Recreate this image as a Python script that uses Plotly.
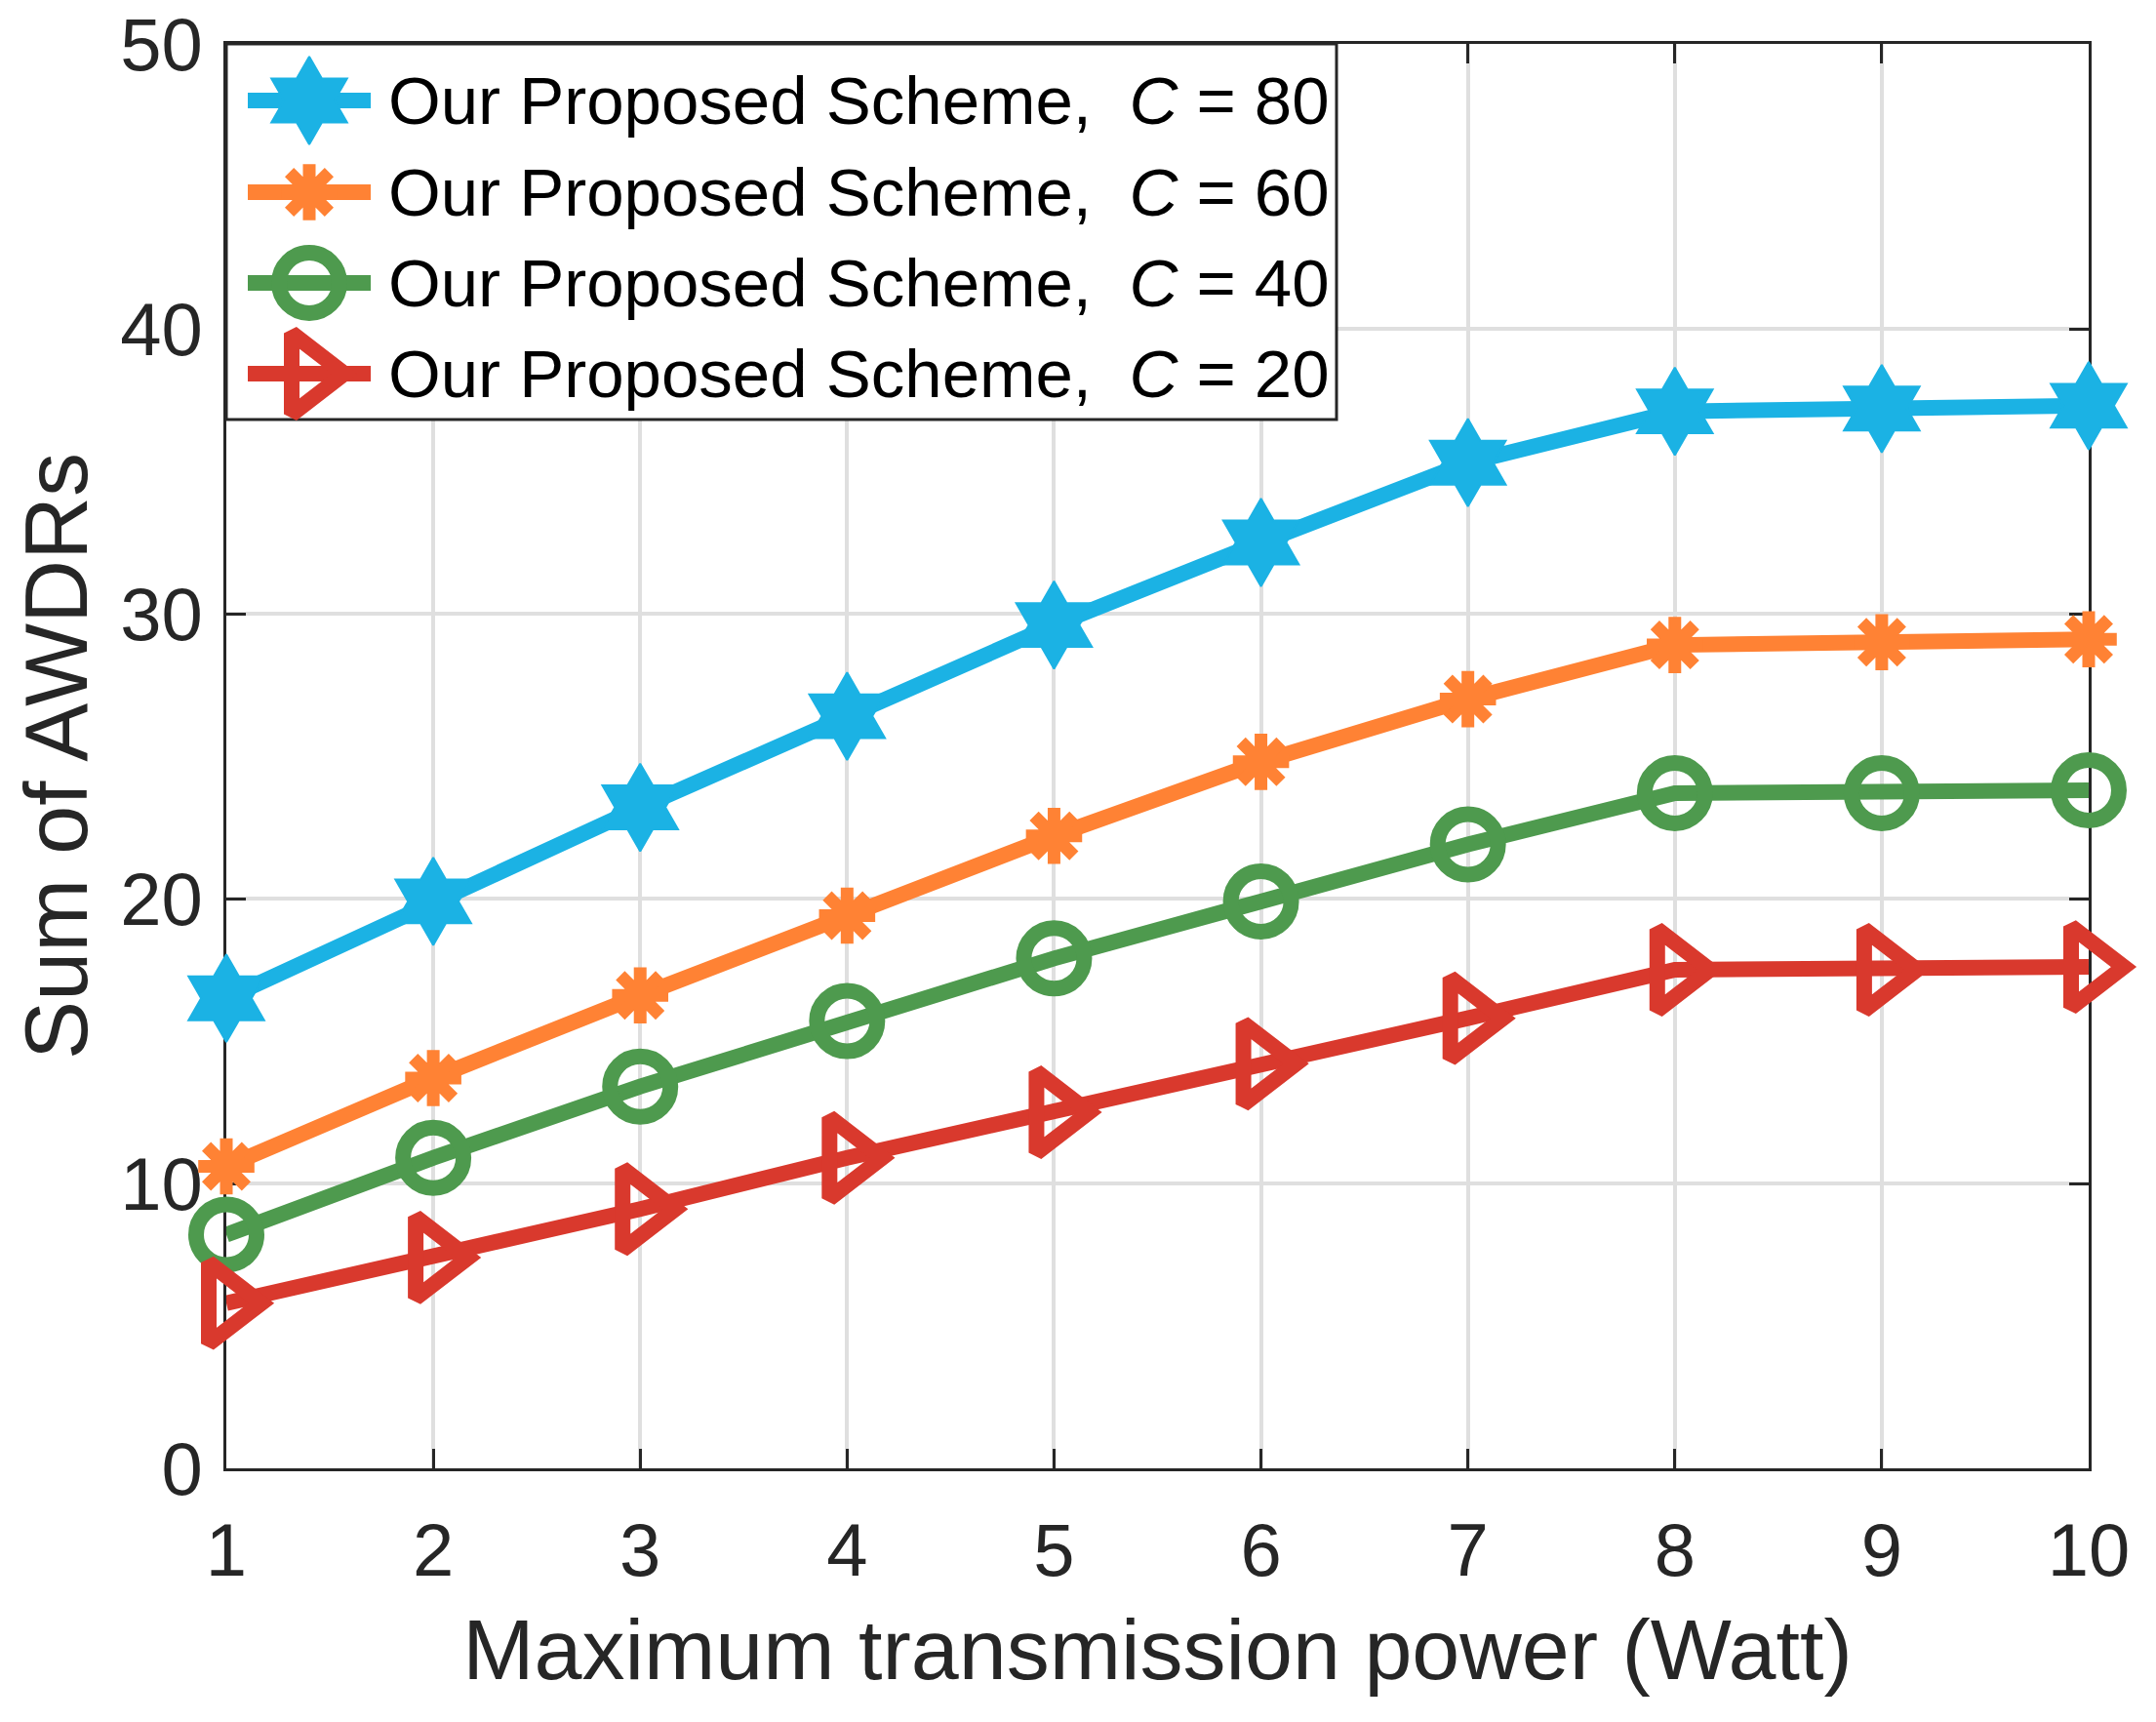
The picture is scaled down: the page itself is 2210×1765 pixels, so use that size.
import plotly.graph_objects as go

# x values: maximum transmission power (Watt)
power = [1, 2, 3, 4, 5, 6, 7, 8, 9, 10]
# sum of AWDRs for each cache size C
awdr_c80 = [16.5, 19.9, 23.2, 26.4, 29.6, 32.5, 35.3, 37.1, 37.2, 37.3]
awdr_c60 = [10.6, 13.7, 16.6, 19.4, 22.2, 24.8, 27.0, 28.9, 29.0, 29.1]
awdr_c40 = [8.2, 10.9, 13.4, 15.7, 17.9, 19.9, 21.9, 23.7, 23.7, 23.8]
awdr_c20 = [5.8, 7.4, 9.1, 10.9, 12.5, 14.2, 15.8, 17.5, 17.5, 17.6]
c_values = [80, 60, 40, 20]
series = [awdr_c80, awdr_c60, awdr_c40, awdr_c20]

colors = ['#1BB2E4', '#FF8234', '#4E9A4E', '#D9392D']
markers = [
    dict(symbol='hexagram', size=68, color='#1BB2E4', line=dict(color='#1BB2E4', width=2)),
    dict(symbol='asterisk-open', size=48, color='#FF8234', line=dict(color='#FF8234', width=13)),
    dict(symbol='circle-open', size=62, color='#4E9A4E', line=dict(color='#4E9A4E', width=16)),
    dict(symbol='triangle-right-open', size=72, color='#D9392D', line=dict(color='#D9392D', width=16)),
]

# the page body has an 8px margin, so the figure is drawn 8px in from the corner
W, H = 2202, 1757
L, R, T, B = 224, 69, 37, 260
FONT = 'Liberation Sans, Arial, Helvetica, sans-serif'
DARK = '#262626'

fig = go.Figure()

for vals, col, mk in zip(series, colors, markers):
    fig.add_trace(go.Scatter(x=power, y=vals, mode='lines+markers',
                             line=dict(color=col, width=16), marker=mk,
                             cliponaxis=False, showlegend=False))

# hand-made legend on an overlay axis measured in figure pixels
box_l, box_r, box_t, box_b = 224, 1362, 37, 422
row_y = [95, 189, 282, 375]
fig.add_trace(go.Scatter(x=[box_l, box_r, box_r, box_l, box_l], y=[box_t, box_t, box_b, box_b, box_t],
                         xaxis='x2', yaxis='y2', mode='lines', fill='toself', fillcolor='white',
                         line=dict(color=DARK, width=3), cliponaxis=False, showlegend=False,
                         hoverinfo='skip'))
for yy, col, mk, c in zip(row_y, colors, markers, c_values):
    fig.add_trace(go.Scatter(x=[246, 372], y=[yy, yy], xaxis='x2', yaxis='y2', mode='lines',
                             line=dict(color=col, width=16), cliponaxis=False, showlegend=False,
                             hoverinfo='skip'))
    fig.add_trace(go.Scatter(x=[309], y=[yy], xaxis='x2', yaxis='y2', mode='markers',
                             marker=mk, cliponaxis=False, showlegend=False, hoverinfo='skip'))
    fig.add_annotation(x=388, y=yy, xref='x2', yref='y2', xanchor='left', yanchor='middle',
                       text='Our Proposed Scheme,&nbsp; <i>C</i> = %d' % c, showarrow=False,
                       font=dict(family=FONT, size=69, color='black'))

axis_common = dict(showline=True, linecolor=DARK, linewidth=3, mirror='ticks',
                   ticks='inside', ticklen=20, tickwidth=3, tickcolor=DARK,
                   showgrid=True, gridcolor='#DFDFDF', gridwidth=4, zeroline=False,
                   layer='below traces', ticklabeloverflow='allow', automargin=False,
                   tickfont=dict(family=FONT, size=76, color=DARK))

fig.update_layout(
    width=W, height=H,
    margin=dict(l=L, r=R, t=T, b=B, autoexpand=False),
    paper_bgcolor='white', plot_bgcolor='white',
    font=dict(family=FONT, color=DARK),
    xaxis=dict(range=[1, 10], dtick=1, tick0=1, ticklabelstandoff=16,
               title=dict(text='Maximum transmission power (Watt)', standoff=30,
                          font=dict(family=FONT, size=88, color=DARK)),
               **axis_common),
    yaxis=dict(range=[0, 50], dtick=10, ticklabelstandoff=6,
               title=dict(text='Sum of AWDRs', standoff=40,
                          font=dict(family=FONT, size=90, color=DARK)),
               **axis_common),
    xaxis2=dict(overlaying='x', range=[L, W - R], visible=False, fixedrange=True),
    yaxis2=dict(overlaying='y', range=[H - B, T], visible=False, fixedrange=True),
)

fig.write_html("out.html")
